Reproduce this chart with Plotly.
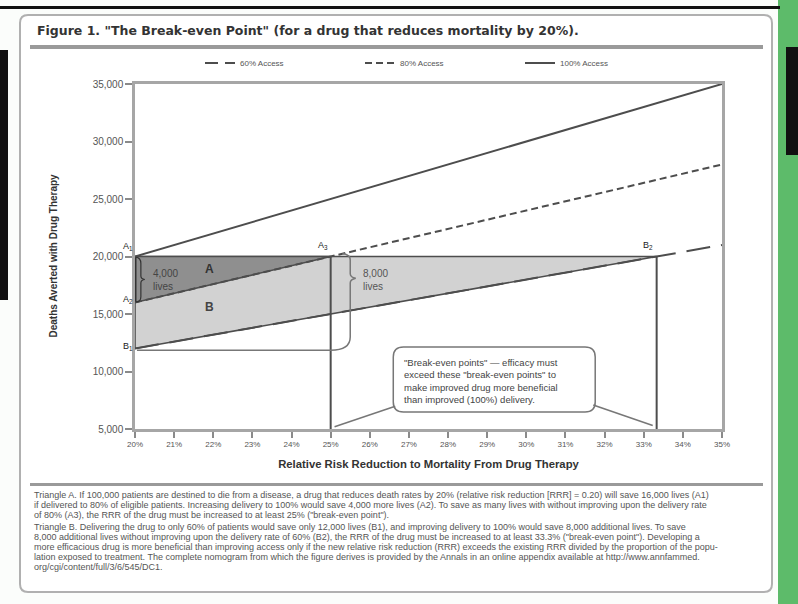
import plotly.graph_objects as go

# ---------------- data ----------------
rrr_ends = [20, 35]                      # relative risk reduction (%)
averted_100 = [20000, 35000]             # 100% access
averted_80 = [16000, 28000]              # 80% access
averted_60 = [12000, 21000]              # 60% access
base_rrr = 20
target_lives = 20000
break_even_80 = 25
break_even_60 = 33.33
y_floor = 5000
x_ticks = list(range(20, 36))
x_ticklabels = [f"{v}%" for v in x_ticks]
y_ticks = [5000, 10000, 15000, 20000, 25000, 30000, 35000]

FONT = "Liberation Sans, Arial, sans-serif"
DARK = "#4d4d4d"

# pixel -> paper helpers (plot area: x 135..722, y 84..429)
L, R, T, B = 135, 722, 84, 429
def fx(p): return (p - L) / (R - L)
def fy(p): return (B - p) / (B - T)
def dx(v): return (v - rrr_ends[0]) / (rrr_ends[1] - rrr_ends[0])

fig = go.Figure()

# shaded triangles
fig.add_trace(go.Scatter(
    x=[base_rrr, break_even_60, base_rrr, base_rrr],
    y=[target_lives, target_lives, averted_60[0], target_lives],
    mode="lines", fill="toself", fillcolor="#d2d2d2",
    line=dict(color=DARK, width=1.6), showlegend=False, hoverinfo="skip"))
fig.add_trace(go.Scatter(
    x=[base_rrr, break_even_80, base_rrr, base_rrr],
    y=[target_lives, target_lives, averted_80[0], target_lives],
    mode="lines", fill="toself", fillcolor="#8f8f8f",
    line=dict(color=DARK, width=1.6), showlegend=False, hoverinfo="skip"))

# break-even verticals
for xv in [break_even_80, break_even_60]:
    fig.add_trace(go.Scatter(x=[xv, xv], y=[y_floor, target_lives], mode="lines",
                             line=dict(color=DARK, width=2), showlegend=False,
                             hoverinfo="skip"))
fig.add_trace(go.Scatter(x=[base_rrr, base_rrr], y=[averted_80[0], target_lives],
                         mode="lines", line=dict(color="#333", width=3),
                         showlegend=False, hoverinfo="skip"))

# access lines
fig.add_trace(go.Scatter(x=rrr_ends, y=averted_60, mode="lines", name="60% Access",
                         line=dict(color=DARK, width=2, dash="24px,11px"),
                         showlegend=False))
fig.add_trace(go.Scatter(x=[None], y=[None], mode="lines", name="60% Access",
                         line=dict(color=DARK, width=2, dash="13px,7px"), legendrank=1))
fig.add_trace(go.Scatter(x=rrr_ends, y=averted_80, mode="lines", name="80% Access",
                         line=dict(color=DARK, width=2, dash="7px,4px"), legendrank=2))
fig.add_trace(go.Scatter(x=rrr_ends, y=averted_100, mode="lines", name="100% Access",
                         line=dict(color=DARK, width=2), legendrank=3))

shapes = []
# page decorations
shapes.append(dict(type="rect", xref="paper", yref="paper", x0=fx(778), x1=fx(800),
                   y0=fy(606), y1=fy(-2), fillcolor="#5dbb6a", line_width=0, layer="below"))
shapes.append(dict(type="rect", xref="paper", yref="paper", x0=fx(786), x1=fx(800),
                   y0=fy(155), y1=fy(47), fillcolor="#111", line_width=0, layer="below"))
shapes.append(dict(type="rect", xref="paper", yref="paper", x0=fx(-2), x1=fx(780),
                   y0=fy(9), y1=fy(6), fillcolor="#111", line_width=0, layer="below"))
shapes.append(dict(type="rect", xref="paper", yref="paper", x0=fx(-2), x1=fx(8),
                   y0=fy(300), y1=fy(50), fillcolor="#111", line_width=0, layer="below"))
# frame (rounded)
def rrect_paper(x0, y0, x1, y1, r):
    X0, X1 = fx(x0), fx(x1)
    Y0, Y1 = fy(y0), fy(y1)
    rx = r / (R - L); ry = r / (B - T)
    return (f"M {X0+rx},{Y0} L {X1-rx},{Y0} Q {X1},{Y0} {X1},{Y0-ry} "
            f"L {X1},{Y1+ry} Q {X1},{Y1} {X1-rx},{Y1} L {X0+rx},{Y1} "
            f"Q {X0},{Y1} {X0},{Y1+ry} L {X0},{Y0-ry} Q {X0},{Y0} {X0+rx},{Y0} Z")
shapes.append(dict(type="path", xref="paper", yref="paper",
                   path=rrect_paper(20, 15, 772, 592, 8),
                   line=dict(color="#b0b0b0", width=2), fillcolor="white",
                   layer="below"))
# rules
shapes.append(dict(type="rect", xref="paper", yref="paper", x0=fx(30), x1=fx(763),
                   y0=fy(49), y1=fy(45), fillcolor="#9a9a9a", line_width=0))
shapes.append(dict(type="rect", xref="paper", yref="paper", x0=fx(30), x1=fx(763),
                   y0=fy(486), y1=fy(483), fillcolor="#9a9a9a", line_width=0))

# braces (data coords)
shapes.append(dict(type="path", xref="x", yref="y",
                   path=("M 20.02,19950 Q 20.15,19900 20.15,19400 L 20.15,18300 "
                         "Q 20.15,18050 20.25,18000 Q 20.15,17950 20.15,17700 "
                         "L 20.15,16500 Q 20.15,16050 20.02,16050"),
                   line=dict(color="#333", width=1.2)))
shapes.append(dict(type="path", xref="x", yref="y",
                   path=("M 25.3,20250 Q 25.5,20200 25.5,19700 L 25.5,18500 "
                         "Q 25.5,18200 25.64,18100 Q 25.5,18000 25.5,17700 "
                         "L 25.5,13000 Q 25.5,11850 25.0,11850 L 20.05,11850"),
                   line=dict(color="#777", width=1.5)))

# callout box (data coords, rounded)
bx0, bx1, by0, by1 = 26.6, 31.76, 6480, 12130
rx, ry = 0.26, 870
shapes.append(dict(type="path", xref="x", yref="y",
                   path=(f"M {bx0+rx},{by1} L {bx1-rx},{by1} Q {bx1},{by1} {bx1},{by1-ry} "
                         f"L {bx1},{by0+ry} Q {bx1},{by0} {bx1-rx},{by0} L {bx0+rx},{by0} "
                         f"Q {bx0},{by0} {bx0},{by0+ry} L {bx0},{by1-ry} Q {bx0},{by1} {bx0+rx},{by1} Z"),
                   line=dict(color="#777", width=1.5), fillcolor="white"))
shapes.append(dict(type="line", xref="x", yref="y", x0=bx0 + 0.05, y0=by0 + 500,
                   x1=break_even_80 + 0.1, y1=y_floor + 200, line=dict(color="#777", width=1.5)))
shapes.append(dict(type="line", xref="x", yref="y", x0=bx1 - 0.05, y0=by0 + 600,
                   x1=break_even_60 - 0.1, y1=y_floor + 300, line=dict(color="#777", width=1.5)))

ann = []
ann.append(dict(xref="paper", yref="paper", x=fx(35), y=fy(30), xanchor="left",
                yanchor="middle", showarrow=False,
                text='<b>Figure 1. "The Break-even Point" (for a drug that reduces mortality by 20%).</b>',
                font=dict(family="DejaVu Sans, sans-serif", size=12.5, color="#333")))
# y-axis title
ann.append(dict(xref="paper", yref="paper", x=fx(45), y=fy(256), textangle=-90,
                showarrow=False, text="<b>Deaths Averted with Drug Therapy</b>",
                font=dict(family=FONT, size=10, color="#333")))
# point labels
for txt, xx, yy in [("A<sub>1</sub>", 19.64, 20850), ("A<sub>2</sub>", 19.64, 16300),
                    ("B<sub>1</sub>", 19.64, 12200)]:
    ann.append(dict(xref="paper", yref="y", x=dx(xx), y=yy, text=txt, showarrow=False,
                    font=dict(family=FONT, size=9, color="#222")))
for txt, xx, yy in [("A<sub>3</sub>", 24.8, 21000), ("B<sub>2</sub>", 33.1, 20950)]:
    ann.append(dict(x=xx, y=yy, text=txt, showarrow=False,
                    font=dict(family=FONT, size=9, color="#222")))
ann.append(dict(x=21.9, y=18950, text="<b>A</b>", showarrow=False,
                font=dict(family=FONT, size=12, color="#333")))
ann.append(dict(x=21.9, y=15600, text="<b>B</b>", showarrow=False,
                font=dict(family=FONT, size=12, color="#444")))
ann.append(dict(x=20.4, y=17950, text="4,000<br>lives", showarrow=False, xanchor="left",
                align="left", font=dict(family=FONT, size=10, color="#444")))
ann.append(dict(x=25.78, y=17950, text="8,000<br>lives", showarrow=False, xanchor="left",
                align="left", font=dict(family=FONT, size=10, color="#555")))
ann.append(dict(x=26.83, y=9200, xanchor="left", align="left", showarrow=False,
                text=('"Break-even points" \u2014 efficacy must<br>exceed these "break-even points" to'
                      '<br>make improved drug more beneficial<br>than improved (100%) delivery.'),
                font=dict(family=FONT, size=9.5, color="#444")))

caption_lines = [
    'Triangle A. If 100,000 patients are destined to die from a disease, a drug that reduces death rates by 20% (relative risk reduction [RRR] = 0.20) will save 16,000 lives (A1)',
    'if delivered to 80% of eligible patients. Increasing delivery to 100% would save 4,000 more lives (A2). To save as many lives with without improving upon the delivery rate',
    'of 80% (A3), the RRR of the drug must be increased to at least 25% ("break-even point").',
    'Triangle B. Delivering the drug to only 60% of patients would save only 12,000 lives (B1), and improving delivery to 100% would save 8,000 additional lives. To save',
    '8,000 additional lives without improving upon the delivery rate of 60% (B2), the RRR of the drug must be increased to at least 33.3% ("break-even point"). Developing a',
    'more efficacious drug is more beneficial than improving access only if the new relative risk reduction (RRR) exceeds the existing RRR divided by the proportion of the popu-',
    'lation exposed to treatment. The complete nomogram from which the figure derives is provided by the Annals in an online appendix available at http://www.annfammed.',
    'org/cgi/content/full/3/6/545/DC1.',
]
caption_y = [495, 505, 515, 527, 537, 547, 557, 567]
for txt, yy in zip(caption_lines, caption_y):
    ann.append(dict(xref="paper", yref="paper", x=fx(32), y=fy(yy), xanchor="left",
                    yanchor="middle", align="left", showarrow=False, text=txt,
                    font=dict(family=FONT, size=9, color="#555")))

fig.update_layout(
    width=798, height=604, autosize=False,
    margin=dict(l=L, r=798 - R, t=T, b=604 - B, pad=0),
    paper_bgcolor="#fbfdfb", plot_bgcolor="white",
    font=dict(family=FONT, color="#444"),
    shapes=shapes, annotations=ann,
    showlegend=True,
    legend=dict(orientation="h", x=fx(200), y=fy(63), xanchor="left", yanchor="middle",
                entrywidth=115, entrywidthmode="pixels", bgcolor="rgba(0,0,0,0)",
                font=dict(family=FONT, size=8, color="#555"), itemwidth=30),
    xaxis=dict(range=[20, 35], tickvals=x_ticks, ticktext=x_ticklabels,
               showgrid=False, zeroline=False, showline=True, mirror=True,
               linecolor="#a6a6a6", linewidth=2.5, ticks="outside", ticklen=6,
               tickwidth=2, tickcolor="#8a8a8a",
               tickfont=dict(family=FONT, size=8, color="#555"),
               title=dict(text="<b>Relative Risk Reduction to Mortality From Drug Therapy</b>",
                          font=dict(family=FONT, size=11.3, color="#333"), standoff=12)),
    yaxis=dict(range=[5000, 35000], tickvals=y_ticks, tickformat=",",
               showgrid=False, zeroline=False, showline=True, mirror=True,
               linecolor="#a6a6a6", linewidth=2.5, ticks="outside", ticklen=7,
               tickwidth=2, tickcolor="#8a8a8a",
               tickfont=dict(family=FONT, size=10, color="#555")),
)

fig.write_html("out.html", config={"displayModeBar": False},
               post_script="document.body.style.margin='0px';")
